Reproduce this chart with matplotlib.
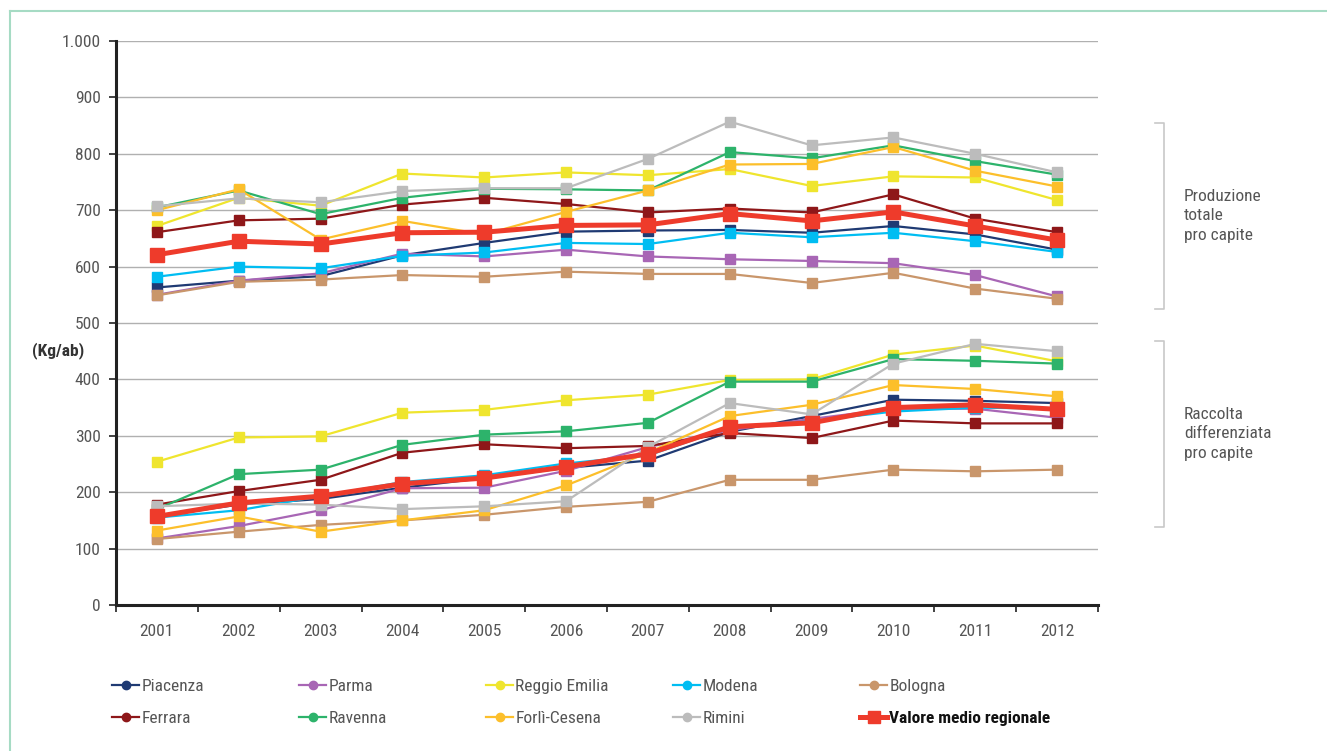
import numpy as np
import matplotlib
matplotlib.use("Agg")
import matplotlib.pyplot as plt
from matplotlib.lines import Line2D

plt.rcParams['font.family'] = ['Roboto Condensed', 'Liberation Sans Narrow',
                               'DejaVu Sans Condensed', 'Roboto', 'DejaVu Sans']
plt.rcParams['font.stretch'] = 'condensed'

# ---- dati
anni = ["2001", "2002", "2003", "2004", "2005", "2006",
        "2007", "2008", "2009", "2010", "2011", "2012"]
province = ["Piacenza", "Parma", "Reggio Emilia", "Modena", "Bologna",
            "Ferrara", "Ravenna", "Forlì-Cesena", "Rimini"]

# produzione totale pro capite (kg/ab)
prod_piacenza = [563, 575, 583, 620, 642, 662, 664, 665, 660, 672, 657, 630]
prod_parma = [550, 575, 588, 623, 618, 630, 618, 613, 610, 606, 585, 547]
prod_reggio = [672, 722, 708, 765, 758, 767, 762, 773, 743, 760, 758, 718]
prod_modena = [582, 600, 597, 619, 625, 642, 640, 660, 652, 660, 645, 626]
prod_bologna = [549, 573, 577, 585, 582, 591, 587, 587, 571, 589, 561, 543]
prod_ferrara = [661, 682, 685, 710, 722, 711, 696, 703, 696, 728, 685, 661]
prod_ravenna = [705, 735, 693, 722, 738, 737, 735, 803, 792, 815, 787, 763]
prod_forli = [700, 737, 648, 681, 657, 697, 735, 781, 782, 812, 770, 742]
prod_rimini = [707, 721, 714, 734, 739, 739, 791, 857, 815, 829, 800, 767]
prod_media = [621, 645, 640, 660, 661, 673, 674, 694, 681, 697, 672, 647]

# raccolta differenziata pro capite (kg/ab)
rd_piacenza = [157, 178, 188, 208, 225, 243, 256, 307, 335, 364, 362, 358]
rd_parma = [118, 140, 168, 207, 208, 238, 280, 310, 330, 348, 348, 332]
rd_reggio = [254, 297, 299, 341, 346, 363, 373, 399, 400, 444, 460, 432]
rd_modena = [155, 168, 193, 218, 230, 251, 265, 315, 326, 343, 350, 348]
rd_bologna = [117, 130, 142, 150, 160, 174, 183, 222, 222, 240, 237, 240]
rd_ferrara = [178, 202, 222, 270, 285, 278, 282, 305, 296, 327, 322, 322]
rd_ravenna = [170, 232, 240, 284, 302, 308, 323, 396, 396, 436, 433, 428]
rd_forli = [132, 157, 130, 150, 168, 212, 270, 335, 355, 390, 383, 370]
rd_rimini = [175, 180, 178, 170, 175, 184, 280, 358, 338, 428, 463, 450]
rd_media = [157, 181, 193, 215, 225, 245, 268, 316, 323, 350, 355, 347]

prod = [prod_piacenza, prod_parma, prod_reggio, prod_modena, prod_bologna,
        prod_ferrara, prod_ravenna, prod_forli, prod_rimini]
rd = [rd_piacenza, rd_parma, rd_reggio, rd_modena, rd_bologna,
      rd_ferrara, rd_ravenna, rd_forli, rd_rimini]

colori = ["#1f3a73", "#a866b5", "#efe52e", "#00bdf2", "#c9966b",
          "#8e1719", "#2db36b", "#fcbf2b", "#bcbcbc"]
rosso = "#ee3b2b"
grigio_testo = "#555555"
fs = 12.5

# ---- grafico
fig = plt.figure(figsize=(13.27, 7.51), dpi=100)
ax = fig.add_axes([116 / 1327, 1 - 605 / 751, (1098 - 116) / 1327, (605 - 41) / 751])

x = np.arange(len(anni))
for serie_p, serie_r, c in zip(prod, rd, colori):
    ax.plot(x, serie_p, color=c, lw=1.6, marker="s", ms=7, zorder=3)
    ax.plot(x, serie_r, color=c, lw=1.6, marker="s", ms=7, zorder=3)
ax.plot(x, prod_media, color=rosso, lw=3.6, marker="s", ms=9.5, zorder=4)
ax.plot(x, rd_media, color=rosso, lw=3.6, marker="s", ms=9.5, zorder=4)

ax.set_xlim(-0.5, len(anni) - 0.5)
ax.set_ylim(0, 1000)
ax.set_yticks(np.arange(0, 1001, 100))
ax.set_yticklabels(["0", "100", "200", "300", "400", "500",
                    "600", "700", "800", "900", "1.000"])
ax.set_xticks(x)
ax.set_xticklabels(anni)
ax.set_xticks(np.arange(-0.5, len(anni)), minor=True)
ax.tick_params(axis="x", which="major", length=0, pad=14, labelsize=fs, labelcolor=grigio_testo)
ax.tick_params(axis="x", which="minor", length=5, width=1.2, direction="out", color="#222222")
ax.tick_params(axis="y", length=5, width=1.2, pad=6, labelsize=fs, labelcolor=grigio_testo, color="#222222")
ax.grid(axis="y", color="#b0b0b0", lw=1)
ax.set_axisbelow(True)
for s in ["top", "right"]:
    ax.spines[s].set_visible(False)
for s in ["left", "bottom"]:
    ax.spines[s].set_linewidth(2.2)
    ax.spines[s].set_color("#222222")

fig.text(32 / 1327, 1 - 351 / 751, "(Kg/ab)", fontsize=fs, color="#333333",
         fontweight="bold", va="center", ha="left")

# ---- parentesi a destra
def parentesi(y0, y1, testo):
    xs = [1155 / 1327, 1164 / 1327, 1164 / 1327, 1155 / 1327]
    ys = [1 - y0 / 751, 1 - y0 / 751, 1 - y1 / 751, 1 - y1 / 751]
    fig.add_artist(Line2D(xs, ys, color="#c8c8c8", lw=1.2))
    fig.text(1184 / 1327, 1 - (y0 + y1) / 2 / 751, testo, fontsize=fs,
             color=grigio_testo, va="center", ha="left", linespacing=1.4)

parentesi(123, 309, "Produzione\ntotale\npro capite")
parentesi(341, 527, "Raccolta\ndifferenziata\npro capite")

# ---- legenda: una colonna alla volta
nomi = province + ["Valore medio regionale"]
col_leg = colori + [rosso]
ordine = [[0, 5], [1, 6], [2, 7], [3, 8], [4, 9]]
for k, coppia in enumerate(ordine):
    handles = []
    for i in coppia:
        if i == 9:
            handles.append(Line2D([], [], color=rosso, lw=3.6, marker="s", ms=9))
        else:
            handles.append(Line2D([], [], color=col_leg[i], lw=1.6, marker="o", ms=6))
    leg = fig.legend(handles, [nomi[i] for i in coppia], loc="upper left",
                     bbox_to_anchor=((103 + 187 * k) / 1327, 1 - 670 / 751),
                     frameon=False, fontsize=fs, handlelength=1.6,
                     handletextpad=0.1, labelspacing=1.0, borderpad=0)
    for i, t in zip(coppia, leg.get_texts()):
        if i == 9:
            t.set_color("#111111")
            t.set_fontweight("bold")
        else:
            t.set_color(grigio_testo)

# ---- cornice
fig.add_artist(Line2D([9.5 / 1327, 9.5 / 1327], [0, 1 - 11 / 751], color="#a6dbc4", lw=1.5))
fig.add_artist(Line2D([9.5 / 1327, 1], [1 - 11 / 751, 1 - 11 / 751], color="#a6dbc4", lw=1.5))

fig.savefig("out.png", dpi=100)
